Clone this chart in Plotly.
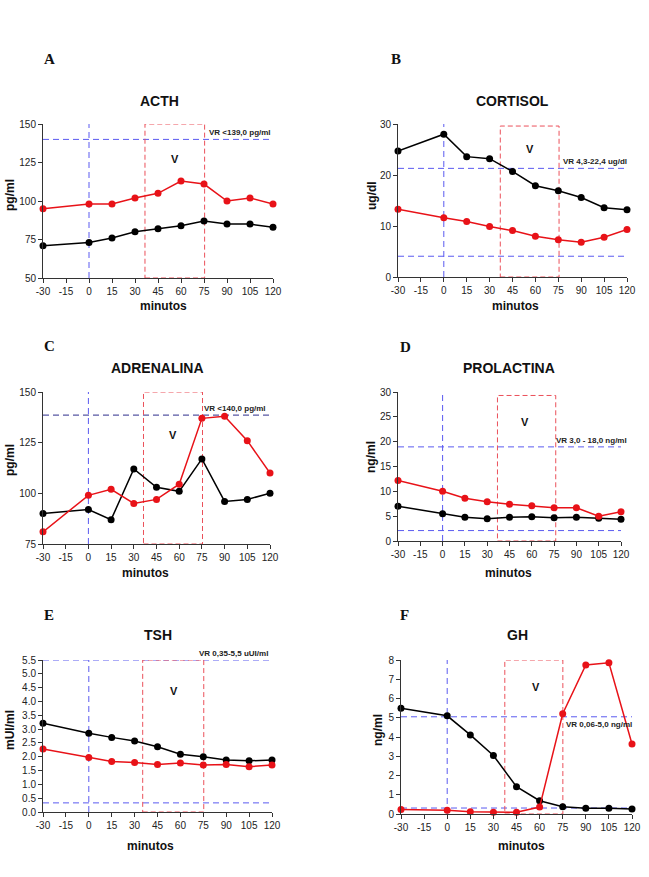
import plotly.graph_objects as go

# ---------------- data ----------------
minutes = [-30, 0, 15, 30, 45, 60, 75, 90, 105, 120]
x_ticks = [-30, -15, 0, 15, 30, 45, 60, 75, 90, 105, 120]
x_tick_text = ["-30", "-15", "0", "15", "30", "45", "60", "75", "90", "105", "120"]

acth_red = [95, 98, 98, 102, 105, 113, 111, 100, 102, 98]
acth_black = [71, 73, 76, 80, 82, 84, 87, 85, 85, 83]

cortisol_black = [24.7, 28.0, 23.6, 23.2, 20.7, 17.9, 16.9, 15.6, 13.6, 13.2]
cortisol_red = [13.3, 11.6, 10.9, 9.9, 9.1, 8.0, 7.3, 6.8, 7.8, 9.3]

adren_black = [90, 92, 87, 112, 103, 101, 117, 96, 97, 100]
adren_red = [81, 99, 102, 95, 97, 104.5, 137, 138, 126, 110]

prl_red = [12.2, 10.0, 8.6, 7.9, 7.4, 7.1, 6.7, 6.7, 5.0, 5.9]
prl_black = [7.0, 5.5, 4.8, 4.5, 4.8, 4.9, 4.7, 4.8, 4.6, 4.4]

tsh_black = [3.21, 2.85, 2.70, 2.57, 2.36, 2.09, 2.00, 1.88, 1.85, 1.88]
tsh_red = [2.28, 1.97, 1.83, 1.79, 1.72, 1.77, 1.70, 1.72, 1.64, 1.70]

gh_black = [5.49, 5.10, 4.11, 3.04, 1.42, 0.69, 0.38, 0.30, 0.30, 0.26]
gh_red = [0.24, 0.19, 0.12, 0.09, 0.09, 0.36, 5.21, 7.74, 7.86, 3.63]

# reference-range lines as drawn
acth_vr = [140]
cortisol_vr = [21.3, 4.07]
adren_vr = [138.6]
prl_vr = [18.95, 2.1]
tsh_vr = [5.5, 0.33]
gh_vr = [5.05, 0.31]

# "V" window (minutes)
window = {"A": (36.5, 75.4), "B": (37, 75.5), "C": (36.4, 75.4),
          "D": (36.9, 76.1), "E": (35.3, 75.3), "F": (37.4, 75.1)}

# ---------------- layout helpers ----------------
W, H = 649, 877
def px(x): return x / W
def py(y): return 1 - y / H

RED = "rgb(232,18,24)"
BLACK = "#000000"
BLUE = "rgb(90,90,240)"
NAVY = "rgb(45,45,140)"
BOXRED = "rgb(235,80,90)"
AXC = "#333333"
FONT = "Liberation Sans, Arial, sans-serif"

panels = [
    dict(letter="A", title="ACTH", ytitle="pg/ml", red=acth_red, black=acth_black,
         yr=[50, 150], yt=[50, 75, 100, 125, 150], vr=acth_vr, vrcol=BLUE,
         vrtext="VR <139,0 pg/ml", vrshift=(0, 0), vrbelow=False, boxtop=150,
         vpos=(56, 127), dom=(43, 273, 124, 278),
         letpos=(42, 59), titpos=(159, 101), ytpos=(10, 195), xtpos=(163, 306), fmt=None),
    dict(letter="B", title="CORTISOL", ytitle="ug/dl", red=cortisol_red, black=cortisol_black,
         yr=[0, 30], yt=[0, 10, 20, 30], vr=cortisol_vr, vrcol=BLUE,
         vrtext="VR 4,3-22,4 ug/dl", vrshift=(2, 0), vrbelow=False, boxtop=29.6,
         vpos=(56.7, 25.1), dom=(398, 627, 124, 277),
         letpos=(389, 59), titpos=(512, 101), ytpos=(372, 195), xtpos=(515, 306), fmt=None),
    dict(letter="C", title="ADRENALINA", ytitle="pg/ml", red=adren_red, black=adren_black,
         yr=[75, 150], yt=[75, 100, 125, 150], vr=adren_vr, vrcol=NAVY,
         vrtext="VR <140,0 pg/ml", vrshift=(-2, 0), vrbelow=False, boxtop=150,
         vpos=(55.8, 129), dom=(43, 270, 392, 544),
         letpos=(42, 346), titpos=(157, 368), ytpos=(10, 460), xtpos=(145, 573), fmt=None),
    dict(letter="D", title="PROLACTINA", ytitle="ng/ml", red=prl_red, black=prl_black,
         yr=[0, 30], yt=[0, 5, 10, 15, 20, 25, 30], vr=prl_vr, vrcol=BLUE,
         vrtext="VR 3,0 - 18,0 ng/ml", vrshift=(8, 0), vrbelow=False, boxtop=29.3,
         vpos=(55.7, 23.9), dom=(398, 621, 392, 541),
         letpos=(398, 347), titpos=(509, 368), ytpos=(371, 457), xtpos=(508, 573), fmt=None),
    dict(letter="E", title="TSH", ytitle="mUI/ml", red=tsh_red, black=tsh_black,
         yr=[0, 5.5], yt=[0, 0.5, 1, 1.5, 2, 2.5, 3, 3.5, 4, 4.5, 5, 5.5], vr=tsh_vr, vrcol=BLUE,
         vrtext="VR 0,35-5,5 uUI/ml", vrshift=(-2, 0), vrbelow=False, boxtop=5.5,
         vpos=(55.6, 4.38), dom=(43, 272, 660, 812),
         letpos=(42, 615), titpos=(158, 635), ytpos=(10, 730), xtpos=(150, 846), fmt=".1f"),
    dict(letter="F", title="GH", ytitle="ng/ml", red=gh_red, black=gh_black,
         yr=[0, 8], yt=[0, 1, 2, 3, 4, 5, 6, 7, 8], vr=gh_vr, vrcol=BLUE,
         vrtext="VR 0,06-5,0 ng/ml", vrshift=(2, 0), vrbelow=True, boxtop=8,
         vpos=(57.8, 6.58), dom=(401, 632, 660, 814),
         letpos=(398, 615), titpos=(517, 635), ytpos=(378, 730), xtpos=(521, 846), fmt=None),
]

fig = go.Figure()
layout = dict(template="none", width=W, height=H, autosize=False,
              margin=dict(l=0, r=0, t=0, b=0, pad=0),
              paper_bgcolor="white", plot_bgcolor="white", showlegend=False,
              font=dict(family=FONT, color="#222"))
shapes = []
annotations = []

for i, p in enumerate(panels):
    n = "" if i == 0 else str(i + 1)
    xa, ya = "x" + n, "y" + n
    x0, x1, y0, y1 = p["dom"]
    layout["xaxis" + n] = dict(
        domain=[px(x0), px(x1)], range=[-30, 120], anchor=ya, automargin=False,
        tickvals=x_ticks, ticktext=x_tick_text, ticks="outside", ticklen=4, tickcolor=AXC, tickwidth=1,
        showline=True, linecolor=AXC, linewidth=1, showgrid=False, zeroline=False,
        tickfont=dict(size=10, color="#222"), fixedrange=True)
    yax = dict(
        domain=[py(y1), py(y0)], range=p["yr"], anchor=xa, automargin=False,
        tickvals=p["yt"], ticks="outside", ticklen=4, tickcolor=AXC, tickwidth=1,
        showline=True, linecolor=AXC, linewidth=1, showgrid=False, zeroline=False,
        tickfont=dict(size=10, color="#222"), fixedrange=True)
    if p["fmt"]:
        yax["tickformat"] = p["fmt"]
    layout["yaxis" + n] = yax

    # reference lines
    for v in p["vr"]:
        shapes.append(dict(type="line", xref=xa, yref=ya, x0=-30, x1=120, y0=v, y1=v,
                           line=dict(color=p["vrcol"], width=1, dash="6px,4px"), layer="below"))
    shapes.append(dict(type="line", xref=xa, yref=ya, x0=0, x1=0, y0=p["yr"][0], y1=p["yr"][1],
                       line=dict(color=BLUE, width=1, dash="6px,4px"), layer="below"))
    w0, w1 = window[p["letter"]]
    shapes.append(dict(type="rect", xref=xa, yref=ya, x0=w0, x1=w1, y0=p["yr"][0], y1=p["boxtop"],
                       line=dict(color=BOXRED, width=1, dash="5px,3px"), layer="below"))

    # series
    fig.add_trace(go.Scatter(x=minutes, y=p["black"], mode="lines+markers", xaxis=xa, yaxis=ya,
                             line=dict(color=BLACK, width=1.5), marker=dict(size=7, color=BLACK),
                             cliponaxis=False))
    fig.add_trace(go.Scatter(x=minutes, y=p["red"], mode="lines+markers", xaxis=xa, yaxis=ya,
                             line=dict(color=RED, width=1.5), marker=dict(size=7, color=RED),
                             cliponaxis=False))

    # texts
    annotations.append(dict(text="<b>" + p["letter"] + "</b>", xref="paper", yref="paper",
                            x=px(p["letpos"][0]), y=py(p["letpos"][1]), xanchor="left", yanchor="middle",
                            showarrow=False, font=dict(family="Liberation Serif, Times New Roman, serif",
                                                       size=15, color="#111")))
    annotations.append(dict(text="<b>" + p["title"] + "</b>", xref="paper", yref="paper",
                            x=px(p["titpos"][0]), y=py(p["titpos"][1]), xanchor="center", yanchor="middle",
                            showarrow=False, font=dict(size=14, color="#111")))
    annotations.append(dict(text="<b>" + p["ytitle"] + "</b>", xref="paper", yref="paper",
                            x=px(p["ytpos"][0]), y=py(p["ytpos"][1]), xanchor="center", yanchor="middle",
                            textangle=-90, showarrow=False, font=dict(size=12, color="#111")))
    annotations.append(dict(text="<b>minutos</b>", xref="paper", yref="paper",
                            x=px(p["xtpos"][0]), y=py(p["xtpos"][1]), xanchor="center", yanchor="middle",
                            showarrow=False, font=dict(size=12, color="#111")))
    annotations.append(dict(text="<b>V</b>", xref=xa, yref=ya, x=p["vpos"][0], y=p["vpos"][1],
                            xanchor="center", yanchor="middle", showarrow=False,
                            font=dict(size=11, color="#111")))
    annotations.append(dict(text="<b>" + p["vrtext"] + "</b>", xref=xa, yref=ya, x=120, y=p["vr"][0],
                            xanchor="right", yanchor="top" if p["vrbelow"] else "bottom",
                            xshift=p["vrshift"][0], yshift=-1 if p["vrbelow"] else 0,
                            showarrow=False, font=dict(size=8, color="#222")))

layout["shapes"] = shapes
layout["annotations"] = annotations
fig.update_layout(**layout)
fig.write_html("out.html", config={"displayModeBar": False},
               post_script="document.body.style.margin='0px';document.body.style.overflow='hidden';")
